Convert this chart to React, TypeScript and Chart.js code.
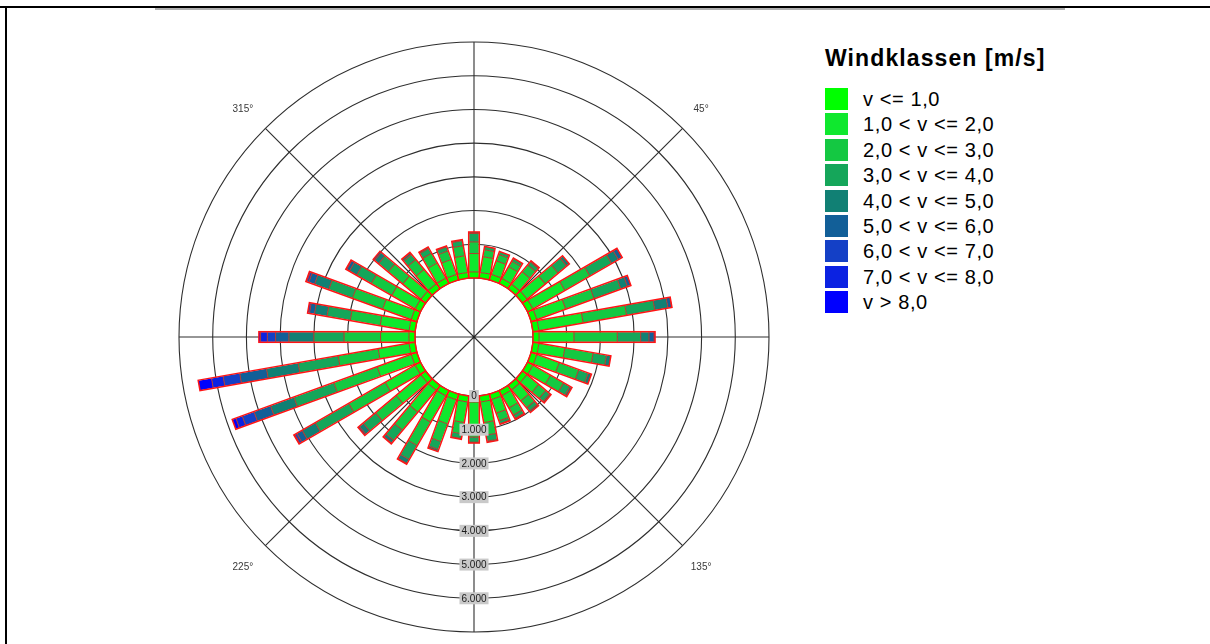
import React, { useEffect, useRef } from 'react';
import { Chart, registerables } from 'chart.js';

Chart.register(...registerables);

// Wind directions (degrees, clockwise from north)
const DIRECTIONS = [0, 10, 20, 30, 40, 50, 60, 70, 80, 90, 100, 110, 120, 130, 140, 150, 160, 170,
  180, 190, 200, 210, 220, 230, 240, 250, 260, 270, 280, 290, 300, 310, 320, 330, 340, 350];

const CLASS_LABELS = ['v <= 1,0', '1,0 < v <= 2,0', '2,0 < v <= 3,0', '3,0 < v <= 4,0', '4,0 < v <= 5,0',
  '5,0 < v <= 6,0', '6,0 < v <= 7,0', '7,0 < v <= 8,0', 'v > 8,0'];

const CLASS_COLORS = ['#00ff00', '#0fe82e', '#14c842', '#15a65a', '#118074', '#125f98', '#1440c6', '#0b22e2', '#0000ff'];

// frequency per direction, one array per wind class
const V_LE_1 = [180, 170, 170, 170, 170, 180, 180, 180, 180, 180, 180, 180, 180, 170, 170, 170, 170, 180,
  180, 180, 180, 180, 180, 180, 180, 180, 180, 180, 180, 180, 180, 180, 180, 180, 170, 170];
const V_1_2 = [545, 470, 430, 400, 480, 700, 1095, 910, 1330, 1035, 780, 700, 600, 450, 420, 420, 430, 620,
  680, 620, 760, 900, 850, 950, 1020, 1070, 930, 840, 870, 900, 800, 700, 560, 520, 470, 500];
const V_2_3 = [345, 210, 200, 190, 260, 500, 855, 895, 1310, 1285, 850, 620, 450, 280, 270, 250, 240, 380,
  360, 340, 560, 800, 700, 800, 1250, 1370, 1205, 1085, 900, 950, 700, 560, 380, 330, 270, 300];
const V_3_4 = [250, 100, 90, 100, 120, 330, 745, 845, 850, 695, 405, 300, 220, 150, 130, 110, 90, 180,
  150, 140, 250, 480, 400, 480, 1150, 1260, 1205, 895, 700, 750, 500, 380, 200, 170, 130, 150];
const V_4_5 = [45, 0, 0, 0, 40, 100, 230, 210, 395, 245, 130, 100, 65, 50, 50, 30, 20, 35,
  25, 25, 60, 130, 100, 150, 450, 740, 955, 740, 380, 450, 250, 150, 60, 45, 30, 35];
const V_5_6 = [0, 0, 0, 0, 0, 0, 130, 105, 110, 150, 0, 0, 0, 0, 0, 0, 0, 0,
  0, 0, 0, 30, 25, 50, 180, 520, 805, 395, 150, 180, 90, 50, 15, 0, 0, 0];
const V_6_7 = [0, 0, 0, 0, 0, 0, 0, 0, 10, 30, 0, 0, 0, 0, 0, 0, 0, 0,
  0, 0, 0, 0, 0, 0, 70, 370, 500, 245, 55, 60, 30, 0, 0, 0, 0, 0];
const V_7_8 = [0, 0, 0, 0, 0, 0, 0, 0, 0, 0, 0, 0, 0, 0, 0, 0, 0, 0,
  0, 0, 0, 0, 0, 0, 30, 200, 350, 200, 0, 30, 0, 0, 0, 0, 0, 0];
const V_GT_8 = [0, 0, 0, 0, 0, 0, 0, 0, 0, 0, 0, 0, 0, 0, 0, 0, 0, 0,
  0, 0, 0, 0, 0, 0, 0, 115, 400, 50, 0, 0, 0, 0, 0, 0, 0, 0];

const SERIES = [V_LE_1, V_1_2, V_2_3, V_3_4, V_4_5, V_5_6, V_6_7, V_7_8, V_GT_8];

// radial rings (same units as the series); the outermost ring is not labelled
const RING_VALUES = [0, 1000, 2000, 3000, 4000, 5000, 6000, 7000];

const COMPASS_ANGLES = [45, 135, 225, 315];
const COMPASS_LABELS = ['45°', '135°', '225°', '315°'];
const SPOKE_ANGLES = [0, 45, 90, 135, 180, 225, 270, 315];

const LEGEND_TITLE = 'Windklassen [m/s]';

const fmt = (v: number) => String(v).replace(/\B(?=(\d{3})+(?!\d))/g, '.');

const windRosePlugin = {
  id: 'windRose',
  beforeDatasetsDraw(chart: any) {
    const scale = chart.scales.r;
    const ctx = chart.ctx;
    const n = chart.data.labels.length;
    const step = 360 / n;
    ctx.save();
    ctx.strokeStyle = '#2e2e2e';
    ctx.lineWidth = 1.1;
    SPOKE_ANGLES.forEach((a) => {
      const p = scale.getPointPosition(a / step, scale.drawingArea);
      ctx.beginPath();
      ctx.moveTo(scale.xCenter, scale.yCenter);
      ctx.lineTo(p.x, p.y);
      ctx.stroke();
    });
    ctx.fillStyle = '#222';
    ctx.beginPath();
    ctx.arc(scale.xCenter, scale.yCenter, 1.5, 0, Math.PI * 2);
    ctx.fill();
    ctx.restore();
  },
  afterDatasetsDraw(chart: any) {
    const scale = chart.scales.r;
    const ctx = chart.ctx;
    const n = chart.data.labels.length;
    const step = 360 / n;
    const half = 4.8;
    const datasets = chart.data.datasets;
    for (let i = 0; i < n; i++) {
      const angle = scale.getIndexAngle(i) - Math.PI / 2;
      ctx.save();
      ctx.translate(scale.xCenter, scale.yCenter);
      ctx.rotate(angle);
      const r0 = scale.getDistanceFromCenterForValue(0);
      let cum = 0;
      const bounds: number[] = [];
      for (let k = 0; k < datasets.length; k++) {
        const v = datasets[k].data[i];
        if (!v) continue;
        const a = scale.getDistanceFromCenterForValue(cum);
        const b = scale.getDistanceFromCenterForValue(cum + v);
        ctx.fillStyle = CLASS_COLORS[k];
        ctx.fillRect(a, -half, b - a, half * 2);
        cum += v;
        bounds.push(b);
      }
      const rEnd = scale.getDistanceFromCenterForValue(cum);
      ctx.strokeStyle = '#b23a2e';
      ctx.lineWidth = 1;
      bounds.slice(0, -1).forEach((b) => {
        ctx.beginPath();
        ctx.moveTo(b, -half);
        ctx.lineTo(b, half);
        ctx.stroke();
      });
      ctx.strokeStyle = '#ff1414';
      ctx.lineWidth = 1.5;
      ctx.strokeRect(r0, -half - 0.5, rEnd - r0, half * 2 + 1);
      ctx.restore();
    }

    // radial tick labels along the southern axis
    ctx.save();
    ctx.font = '10px Arial, "Liberation Sans", sans-serif';
    ctx.textAlign = 'center';
    ctx.textBaseline = 'middle';
    scale.ticks.forEach((t: any) => {
      if (t.value < 0 || t.value >= scale.max) return;
      const d = scale.getDistanceFromCenterForValue(t.value);
      const p = scale.getPointPosition(180 / step, d);
      const w = ctx.measureText(t.label).width;
      ctx.fillStyle = '#c9c9c9';
      ctx.fillRect(p.x - w / 2 - 2, p.y - 6, w + 4, 12);
      ctx.fillStyle = '#1a1a1a';
      ctx.fillText(t.label, p.x, p.y + 0.5);
    });
    ctx.restore();

    // compass labels
    ctx.save();
    ctx.font = '10px Arial, "Liberation Sans", sans-serif';
    ctx.textAlign = 'center';
    ctx.textBaseline = 'middle';
    ctx.fillStyle = '#3a3a3a';
    COMPASS_ANGLES.forEach((a, j) => {
      const p = scale.getPointPosition(a / step, scale.drawingArea + 29);
      ctx.fillText(COMPASS_LABELS[j], p.x - 2, p.y + 1);
    });
    ctx.restore();
  },
};

export default function App() {
  const ref = useRef<HTMLCanvasElement>(null);

  useEffect(() => {
    if (!ref.current) return;
    const chart = new Chart(ref.current, {
      type: 'radar',
      data: {
        labels: DIRECTIONS.map((d) => d + '°'),
        datasets: SERIES.map((s, k) => ({
          label: CLASS_LABELS[k],
          data: s,
          showLine: false,
          pointRadius: 0,
          pointHoverRadius: 0,
          borderWidth: 0,
          backgroundColor: CLASS_COLORS[k],
          fill: false,
        })),
      },
      options: {
        responsive: false,
        animation: false,
        layout: { padding: { left: 29, right: 31, top: 12, bottom: 12 } },
        plugins: { legend: { display: false }, tooltip: { enabled: false } },
        scales: {
          r: {
            min: -1750,
            max: 7000,
            startAngle: 0,
            afterBuildTicks: (axis: any) => {
              axis.ticks = RING_VALUES.map((v) => ({ value: v }));
            },
            ticks: { display: false, callback: (v: any) => fmt(Number(v)) },
            grid: {
              circular: true,
              lineWidth: 1.1,
              color: '#2e2e2e',
            },
            angleLines: { display: false },
            pointLabels: { display: false },
          },
        },
      } as any,
      plugins: [windRosePlugin],
    });
    return () => chart.destroy();
  }, []);

  const font = 'Arial, "Liberation Sans", sans-serif';

  return (
    <div style={{ position: 'absolute', left: 0, top: 0, width: 1210, height: 644, background: '#fff', overflow: 'hidden' }}>
      <div style={{ position: 'absolute', left: 0, top: 6, width: 1210, height: 2, background: '#000' }} />
      <div style={{ position: 'absolute', left: 155, top: 8, width: 910, height: 2, background: '#b0b0b0' }} />
      <div style={{ position: 'absolute', left: 5, top: 6, width: 2, height: 638, background: '#000' }} />
      <canvas
        ref={ref}
        width={650}
        height={614}
        style={{ position: 'absolute', left: 150, top: 30, width: 650, height: 614 }}
      />
      <div style={{ position: 'absolute', left: 825, top: 43, height: 30, lineHeight: '30px', fontFamily: font, fontWeight: 'bold', fontSize: 23, letterSpacing: 1.1, color: '#000', whiteSpace: 'nowrap' }}>
        {LEGEND_TITLE}
      </div>
      {CLASS_LABELS.map((lab, i) => (
        <div key={lab} style={{ position: 'absolute', left: 825, top: 88 + 25.4 * i, height: 22, whiteSpace: 'nowrap' }}>
          <div style={{ position: 'absolute', left: 0, top: 0, width: 23, height: 22, background: CLASS_COLORS[i] }} />
          <div style={{ position: 'absolute', left: 38, top: 0, height: 22, lineHeight: '22px', fontFamily: font, fontSize: 20, letterSpacing: 0.6, color: '#000' }}>
            {lab}
          </div>
        </div>
      ))}
    </div>
  );
}
